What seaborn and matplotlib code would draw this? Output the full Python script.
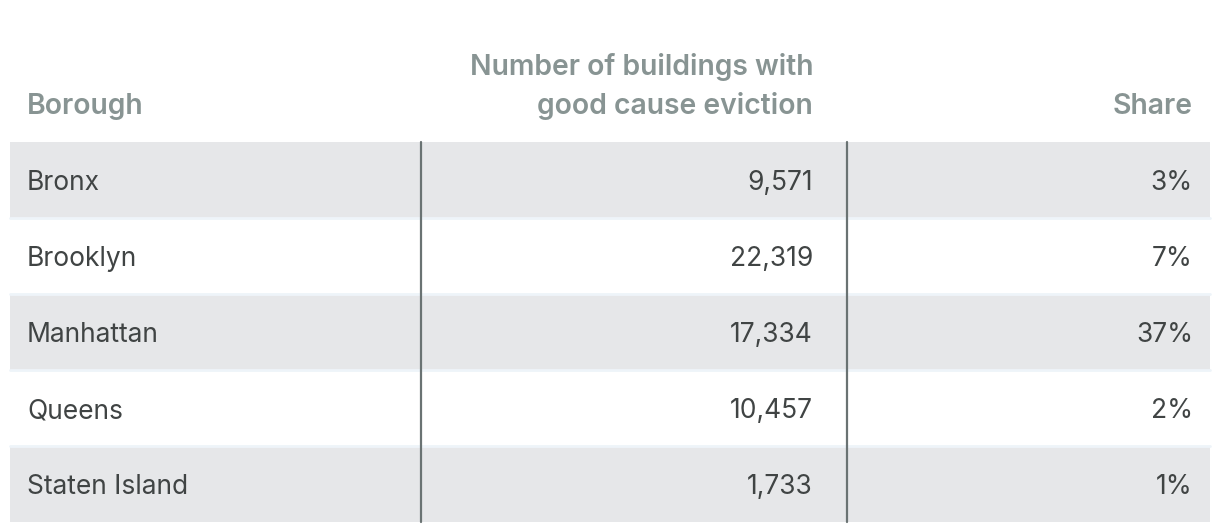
"""
Good cause eviction table by borough, drawn as a plain matplotlib/seaborn figure.
"""

import matplotlib
matplotlib.use("Agg")
import matplotlib.pyplot as plt
import seaborn as sns

# table data
boroughs = ["Bronx", "Brooklyn", "Manhattan", "Queens", "Staten Island"]
buildings = [9571, 22319, 17334, 10457, 1733]
shares = [3, 7, 37, 2, 1]
headers = ["Borough", "Number of buildings with\ngood cause eviction", "Share"]

sns.set_theme(style="white")
plt.rcParams["font.family"] = ["Inter", "DejaVu Sans"]

HEADER_COLOR = "#889493"
TEXT_COLOR = "#404444"
STRIPE = "#e6e7e9"
SEP = "#eef4f9"
RULE = "#6a7373"

W, H = 1220, 532
fig = plt.figure(figsize=(W / 100, H / 100), dpi=100)
ax = fig.add_axes([0, 0, 1, 1])
ax.set_xlim(0, W)
ax.set_ylim(H, 0)
ax.axis("off")

top = 142
row_h = 76
left, right = 10, 1210
col_lines = [421, 847]

# row backgrounds
for i in range(len(boroughs)):
    y0 = top + i * row_h
    color = STRIPE if i % 2 == 0 else "white"
    ax.barh(y0 + row_h / 2, right - left, left=left, height=row_h,
            color=color, edgecolor="none", zorder=0)
    if i > 0:
        ax.plot([left, right], [y0, y0], color=SEP, lw=2, zorder=1)

for x in col_lines:
    ax.plot([x, x], [top, top + len(boroughs) * row_h], color=RULE, lw=1.6, zorder=2)

# header
hkw = dict(color=HEADER_COLOR, fontsize=20.4, fontweight="semibold", va="baseline")
ax.text(27, 114, headers[0], ha="left", **hkw)
ax.text(813, 114, headers[1], ha="right", linespacing=1.5, **hkw)
ax.text(1193, 114, headers[2], ha="right", **hkw)

# body
bkw = dict(color=TEXT_COLOR, fontsize=19, va="baseline")
for i, (name, n, s) in enumerate(zip(boroughs, buildings, shares)):
    yb = top + i * row_h + 48
    ax.text(27, yb, name, ha="left", **bkw)
    ax.text(813, yb, f"{n:,}", ha="right", **bkw)
    ax.text(1193, yb, f"{s}%", ha="right", **bkw)

fig.savefig("out.png", dpi=100)
